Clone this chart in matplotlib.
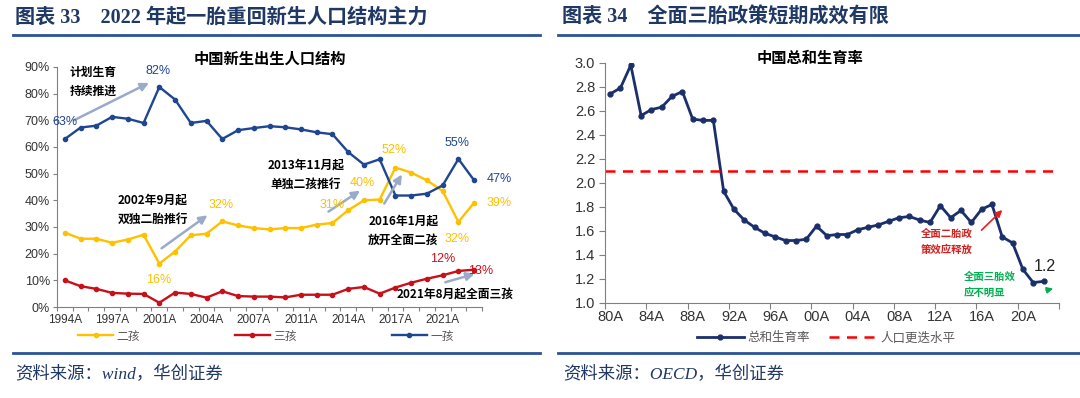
import matplotlib
matplotlib.use("Agg")
import matplotlib.pyplot as plt
from matplotlib.lines import Line2D

plt.rcParams['font.family'] = ['Liberation Sans', 'Noto Sans CJK SC', 'DejaVu Sans']
CJK = ['Noto Sans CJK SC', 'DejaVu Sans']
SERIF = ['Liberation Serif', 'Noto Sans CJK SC', 'DejaVu Sans']

# ---- left chart data: share of births by birth order (%)
years_l = ['1994A', '1995A', '1996A', '1997A', '1998A', '1999A', '2001A', '2002A', '2003A',
           '2004A', '2005A', '2006A', '2007A', '2008A', '2009A', '2011A', '2012A', '2013A',
           '2014A', '2015A', '2016A', '2017A', '2018A', '2019A', '2021A', '2022A', '2023A']
first_child = [63, 67.3, 68, 71.3, 70.6, 69, 82.5, 77.8, 69, 69.8, 63, 66.3, 67.1, 67.8,
               67.4, 66.6, 65.5, 64.8, 58.1, 53.4, 55.4, 41.8, 41.8, 42.5, 45.6, 55.5, 47.5]
second_child = [27.9, 25.6, 25.6, 24.1, 25.3, 27.1, 16.3, 20.8, 26.9, 27.5, 32.1, 30.6, 29.6,
                29.1, 29.6, 29.6, 30.9, 31.5, 36.3, 40, 40.3, 52.3, 50.4, 47.5, 43.5, 31.9, 39.1]
third_child = [10, 7.8, 6.8, 5.3, 5, 4.9, 1.6, 5.4, 4.9, 3.5, 5.9, 4.1, 3.9, 3.9, 3.6, 4.6,
               4.6, 4.6, 6.8, 7.5, 5, 7.3, 9.1, 10.6, 11.9, 13.5, 14]

# ---- right chart data: total fertility rate
years_r = [f"{y % 100:02d}A" for y in range(1980, 2023)]
tfr = [2.74, 2.79, 2.98, 2.56, 2.61, 2.63, 2.72, 2.76, 2.53, 2.52, 2.52, 1.93, 1.78, 1.69,
       1.63, 1.58, 1.55, 1.52, 1.52, 1.53, 1.64, 1.56, 1.57, 1.57, 1.61, 1.63, 1.65, 1.68,
       1.71, 1.72, 1.69, 1.67, 1.81, 1.71, 1.77, 1.67, 1.78, 1.82, 1.55, 1.50, 1.28, 1.17, 1.18]
replacement = 2.1

W, H = 1080, 398
fig = plt.figure(figsize=(W / 100, H / 100), dpi=100)


def fx(x):
    return x / W


def fy(y):
    return 1 - y / H


NAVY_T = '#1F3864'
RULE = '#2A5298'
BLUE = '#1F4690'
YEL = '#FFC000'
RED = '#C8101A'
TICK = '#333333'

# headers, rules and sources
fig.text(fx(15), fy(18), '图表 33    2022 年起一胎重回新生人口结构主力', family=SERIF,
         fontsize=14.5, fontweight='bold', color=NAVY_T, va='center')
fig.text(fx(562), fy(18), '图表 34    全面三胎政策短期成效有限', family=SERIF,
         fontsize=14.5, fontweight='bold', color=NAVY_T, va='center')
for x0, x1 in [(13, 540), (558, 1080)]:
    fig.add_artist(Line2D([fx(x0), fx(x1)], [fy(35), fy(35)], color=RULE, lw=2))
    fig.add_artist(Line2D([fx(x0), fx(x1)], [fy(353), fy(353)], color=RULE, lw=2))
fig.text(fx(15), fy(375), '资料来源：wind，华创证券', family=SERIF, fontsize=12.5,
         style='italic', color=NAVY_T, va='center')
fig.text(fx(563), fy(375), '资料来源：OECD，华创证券', family=SERIF, fontsize=12.5,
         style='italic', color=NAVY_T, va='center')

# ================= left chart
ax = fig.add_axes([fx(57), fy(307), fx(482) - fx(57), fy(67) - fy(307)])
xl = range(len(years_l))
ax.plot(xl, second_child, color=YEL, lw=1.7, marker='o', ms=3, label='二孩')
ax.plot(xl, third_child, color=RED, lw=1.7, marker='o', ms=3, label='三孩')
ax.plot(xl, first_child, color=BLUE, lw=1.7, marker='o', ms=3, label='一孩')
ax.set_xlim(-0.5, len(years_l) - 0.5)
ax.set_ylim(0, 90)
ax.set_yticks(range(0, 91, 10))
ax.set_yticklabels([f'{v}%' for v in range(0, 91, 10)], fontsize=9, color=TICK)
ax.set_xticks([i - 0.5 for i in range(len(years_l) + 1)], minor=False)
ax.set_xticklabels([])
ax.set_xticks(list(range(0, len(years_l), 3)), minor=True)
ax.set_xticklabels([years_l[i] for i in range(0, len(years_l), 3)], minor=True,
                   fontsize=8.5, color=TICK)
ax.tick_params(axis='x', which='minor', length=0, pad=5)
ax.tick_params(axis='x', which='major', length=3, color='#808080')
ax.tick_params(axis='y', length=3, color='#808080', pad=2)
for s in ['top', 'right']:
    ax.spines[s].set_visible(False)
for s in ['left', 'bottom']:
    ax.spines[s].set_color('#808080')
ax.text(fx(270), fy(59), '中国新生出生人口结构', transform=fig.transFigure, family=CJK,
        fontsize=11, fontweight='bold', ha='center', va='center', color='black')

arrow = dict(arrowstyle='-|>', color='#9AAACB', lw=1.8, mutation_scale=12)
ax.annotate('', xy=(5.5, 84.5), xytext=(0.4, 69.5), arrowprops=arrow)
ax.annotate('', xy=(9.2, 35), xytext=(6.0, 21.4), arrowprops=arrow)
ax.annotate('', xy=(18.9, 44.2), xytext=(16.6, 35.2), arrowprops=arrow)
ax.annotate('', xy=(21.5, 50.6), xytext=(20.2, 37.9), arrowprops=arrow)
ax.annotate('', xy=(26.2, 12.7), xytext=(24.0, 9.0), arrowprops=arrow)

note = dict(family=CJK, fontsize=8.5, fontweight='bold', color='black', ha='center',
            va='center', linespacing=1.6)
ax.text(1.8, 84.3, '计划生育\n持续推进', **note)
ax.text(5.6, 36.5, '2002年9月起\n双独二胎推行', **note)
ax.text(15.3, 49.5, '2013年11月起\n单独二孩推行', **note)
ax.text(21.5, 28.5, '2016年1月起\n放开全面二孩', **note)
ax.text(24.8, 4.6, '2021年8月起全面三孩', **note)

lab = dict(fontsize=9, ha='center', va='center', clip_on=False)
for x, y, t, c in [(0, 69.5, '63%', BLUE), (5.95, 88.5, '82%', BLUE), (24.9, 61.5, '55%', BLUE),
                   (27.6, 48, '47%', BLUE), (5.95, 10.1, '16%', YEL), (9.9, 38.2, '32%', YEL),
                   (17.0, 38.2, '31%', YEL), (18.9, 46.5, '40%', YEL), (20.9, 58.9, '52%', YEL),
                   (24.9, 25.5, '32%', YEL), (27.6, 39, '39%', YEL), (24.0, 18, '12%', RED),
                   (26.4, 13.5, '13%', RED)]:
    ax.text(x, y, t, color=c, **lab)

leg = ax.legend(loc='center', bbox_to_anchor=(fx(266), fy(336)),
                bbox_transform=fig.transFigure, ncol=3, frameon=False,
                prop={'family': CJK, 'size': 8.5},
                columnspacing=8, handlelength=3, handletextpad=0.3, borderpad=0)
for t in leg.get_texts():
    t.set_color('#595959')

# ================= right chart
ax2 = fig.add_axes([fx(605), fy(303), fx(1059) - fx(605), fy(62.7) - fy(303)])
xr = range(len(years_r))
ax2.plot(xr, tfr, color='#1B2F6B', lw=2, marker='o', ms=3.5, label='总和生育率')
ax2.plot([-0.5, 43.3], [replacement, replacement], color='#FF0000', lw=1.8,
         ls=(0, (4, 3)), label='人口更迭水平')
ax2.set_xlim(-0.5, 43.5)
ax2.set_ylim(1.0, 3.0)
ax2.set_yticks([1 + 0.2 * i for i in range(11)])
ax2.set_yticklabels([f'{1 + 0.2 * i:.1f}' for i in range(11)], fontsize=10.5, color=TICK)
ax2.set_xticks([i - 0.5 for i in range(0, 45, 4)])
ax2.set_xticklabels([])
ax2.set_xticks(list(range(0, len(years_r), 4)), minor=True)
ax2.set_xticklabels([years_r[i] for i in range(0, len(years_r), 4)], minor=True,
                    fontsize=10.5, color=TICK)
ax2.tick_params(axis='x', which='minor', length=0, pad=5)
ax2.tick_params(axis='x', which='major', length=4, color='#808080')
ax2.tick_params(axis='y', length=4, color='#808080', pad=3)
for s in ['top', 'right']:
    ax2.spines[s].set_visible(False)
for s in ['left', 'bottom']:
    ax2.spines[s].set_color('#808080')
ax2.text(fx(810), fy(58), '中国总和生育率', transform=fig.transFigure, family=CJK, fontsize=11,
         fontweight='bold', ha='center', va='center', color='black')

ax2.annotate('', xy=(38.2, 1.79), xytext=(35.8, 1.59),
             arrowprops=dict(arrowstyle='-|>', color='#E0201E', lw=1.2, mutation_scale=10))
ax2.annotate('', xy=(43.2, 1.125), xytext=(42.0, 1.10),
             arrowprops=dict(arrowstyle='-|>', color='#00B050', lw=1.2, mutation_scale=9))
ax2.text(32.6, 1.51, '全面二胎政\n策效应释放', family=CJK, fontsize=7.5, fontweight='bold',
         color='#D02020', ha='center', va='center', linespacing=1.6)
ax2.text(34.3, 1.15, '全面三胎效\n应不明显', family=CJK, fontsize=7.5, fontweight='bold',
         color='#00B050', ha='left', va='center', linespacing=1.6)
ax2.text(42.1, 1.30, '1.2', fontsize=11.5, ha='center', va='center', color='#222222')

leg2 = ax2.legend(loc='center', bbox_to_anchor=(fx(826), fy(338)),
                  bbox_transform=fig.transFigure, ncol=2, frameon=False,
                  prop={'family': CJK, 'size': 9}, columnspacing=1.5, handlelength=3.8,
                  handletextpad=0.3, borderpad=0)
for t in leg2.get_texts():
    t.set_color('#595959')

fig.savefig('out.png', dpi=100)
